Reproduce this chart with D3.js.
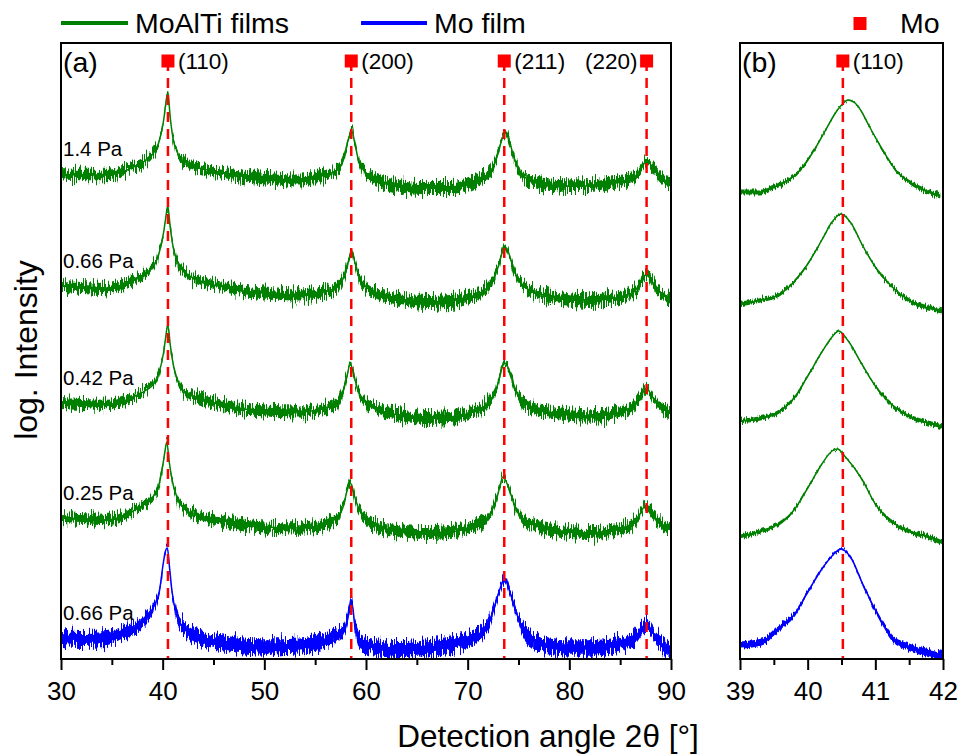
<!DOCTYPE html>
<html>
<head>
<meta charset="utf-8">
<script src="https://cdn.jsdelivr.net/npm/d3@7"></script>
<style>
  body { margin: 0; background: #fff; }
  svg { display: block; font-family: "Liberation Sans", Arial, Helvetica, sans-serif; }
</style>
</head>
<body>
<svg id="chart" width="960" height="754"></svg>
<script>
// XRD scans, [2θ in degrees, log intensity in a.u. (patterns stacked)]
const scan14Pa = [
  [30.0,4.85],[32.0,4.84],[34.5,4.84],[36.0,4.87],[37.1,4.92],[38.4,4.99],[39.1,5.06],[39.6,5.16],
  [40.1,5.39],[40.3,5.55],[40.5,5.67],[40.75,5.41],[41.05,5.19],[41.4,5.08],[41.7,5.01],[42.4,4.96],
  [44.0,4.90],[46.0,4.86],[48.0,4.83],[50.0,4.81],[53.5,4.79],[55.2,4.82],[56.8,4.87],[57.4,4.91],
  [57.8,5.01],[58.25,5.19],[58.6,5.28],[58.9,5.16],[59.25,4.99],[59.75,4.89],[61.0,4.80],[63.3,4.73],
  [66.0,4.71],[68.3,4.71],[70.5,4.77],[71.9,4.84],[72.5,4.92],[73.0,5.06],[73.35,5.19],[73.7,5.26],
  [74.0,5.21],[74.35,5.09],[74.8,4.94],[75.5,4.83],[76.5,4.77],[78.0,4.74],[80.0,4.73],[82.0,4.73],
  [84.6,4.77],[86.3,4.81],[86.8,4.87],[87.2,4.93],[87.6,4.98],[88.25,4.91],[88.9,4.82],[90.0,4.77]
];
const scan066Pa = [
  [30.0,3.73],[32.0,3.72],[34.5,3.71],[36.0,3.74],[37.1,3.79],[38.4,3.86],[39.1,3.93],[39.6,4.04],
  [40.1,4.27],[40.3,4.41],[40.5,4.53],[40.75,4.31],[41.05,4.11],[41.4,3.99],[41.7,3.92],[42.4,3.85],
  [44.0,3.77],[46.0,3.72],[48.0,3.68],[50.0,3.66],[53.5,3.64],[55.2,3.66],[56.8,3.70],[57.4,3.74],
  [57.8,3.82],[58.25,3.97],[58.6,4.06],[58.9,3.97],[59.25,3.84],[59.75,3.75],[61.0,3.66],[63.3,3.60],
  [66.0,3.57],[68.3,3.58],[70.5,3.63],[71.9,3.71],[72.5,3.79],[73.0,3.92],[73.35,4.05],[73.7,4.12],
  [74.0,4.07],[74.35,3.96],[74.8,3.83],[75.5,3.73],[76.5,3.67],[78.0,3.63],[80.0,3.60],[82.0,3.59],
  [84.6,3.61],[86.3,3.67],[86.8,3.73],[87.2,3.80],[87.6,3.85],[88.25,3.76],[88.9,3.67],[90.0,3.61]
];
const scan042Pa = [
  [30.0,2.56],[32.0,2.55],[34.5,2.54],[36.0,2.57],[37.1,2.62],[38.4,2.69],[39.1,2.75],[39.6,2.85],
  [40.1,3.07],[40.3,3.22],[40.5,3.34],[40.75,3.14],[41.05,2.94],[41.4,2.81],[41.7,2.73],[42.4,2.66],
  [44.0,2.59],[46.0,2.54],[48.0,2.50],[50.0,2.48],[53.5,2.47],[55.2,2.49],[56.8,2.54],[57.4,2.59],
  [57.8,2.69],[58.15,2.84],[58.45,2.95],[58.8,2.84],[59.2,2.69],[59.75,2.59],[61.0,2.50],[63.3,2.44],
  [66.0,2.41],[68.3,2.42],[70.5,2.47],[71.9,2.55],[72.5,2.63],[73.0,2.76],[73.35,2.90],[73.6,2.96],
  [74.0,2.91],[74.35,2.80],[74.8,2.67],[75.5,2.57],[76.5,2.51],[78.0,2.47],[80.0,2.44],[82.0,2.43],
  [84.6,2.46],[86.3,2.53],[86.8,2.60],[87.2,2.66],[87.6,2.70],[88.25,2.61],[88.9,2.52],[90.0,2.47]
];
const scan025Pa = [
  [30.0,1.41],[32.0,1.40],[34.5,1.39],[36.0,1.42],[37.1,1.48],[38.4,1.56],[39.1,1.63],[39.6,1.73],
  [40.0,1.93],[40.2,2.06],[40.4,2.17],[40.65,1.97],[40.95,1.78],[41.3,1.65],[41.6,1.57],[42.3,1.49],
  [44.0,1.42],[46.0,1.38],[48.0,1.34],[50.0,1.32],[53.5,1.31],[55.2,1.33],[56.8,1.39],[57.4,1.44],
  [57.8,1.54],[58.1,1.67],[58.4,1.77],[58.75,1.67],[59.15,1.54],[59.7,1.43],[61.0,1.33],[63.3,1.28],
  [66.0,1.26],[68.3,1.27],[70.5,1.33],[71.9,1.41],[72.4,1.49],[72.9,1.62],[73.2,1.74],[73.45,1.82],
  [73.8,1.77],[74.2,1.66],[74.7,1.52],[75.4,1.41],[76.5,1.34],[78.0,1.30],[80.0,1.27],[82.0,1.26],
  [84.6,1.29],[86.3,1.36],[86.8,1.42],[87.1,1.48],[87.45,1.53],[88.1,1.46],[88.9,1.36],[90.0,1.30]
];
const scanMo066Pa = [
  [30.0,0.21],[32.0,0.20],[34.5,0.21],[36.1,0.27],[37.3,0.31],[38.4,0.41],[39.1,0.52],[39.7,0.69],
  [40.05,0.95],[40.25,1.07],[40.45,1.11],[40.7,0.89],[40.9,0.69],[41.4,0.43],[42.0,0.32],[43.7,0.21],
  [46.0,0.16],[48.0,0.13],[50.0,0.12],[53.5,0.13],[55.2,0.16],[56.8,0.22],[57.4,0.26],[57.8,0.29],
  [58.2,0.41],[58.55,0.59],[58.95,0.31],[59.5,0.16],[61.0,0.11],[63.3,0.09],[66.0,0.11],[68.3,0.14],
  [70.5,0.21],[71.6,0.29],[72.2,0.39],[72.75,0.56],[73.2,0.71],[73.65,0.80],[74.05,0.70],[74.5,0.56],
  [75.3,0.32],[76.1,0.21],[78.0,0.13],[80.0,0.11],[82.0,0.11],[84.6,0.14],[86.3,0.20],[86.75,0.25],
  [87.2,0.31],[87.6,0.34],[88.5,0.22],[89.5,0.11],[90.0,0.08]
];

// Detail scans around the Mo (110) reflection, same stacking order
const peak14Pa = [
  [39.0,4.67],[39.3,4.67],[39.6,4.75],[39.85,4.86],[40.05,5.04],[40.25,5.27],[40.4,5.45],[40.5,5.54],
  [40.6,5.59],[40.7,5.56],[40.8,5.47],[40.9,5.34],[41.1,5.10],[41.3,4.89],[41.55,4.75],[41.8,4.67],[41.96,4.63]
];
const peak066Pa = [
  [39.0,3.55],[39.32,3.59],[39.57,3.64],[39.81,3.78],[40.01,3.96],[40.21,4.19],[40.36,4.37],[40.49,4.45],
  [40.65,4.35],[40.8,4.15],[41.0,3.92],[41.25,3.72],[41.49,3.59],[41.78,3.51],[42.0,3.48]
];
const peak042Pa = [
  [39.0,2.38],[39.32,2.41],[39.57,2.47],[39.81,2.62],[40.01,2.84],[40.21,3.07],[40.36,3.22],[40.46,3.28],
  [40.6,3.18],[40.8,2.95],[41.0,2.73],[41.25,2.54],[41.49,2.43],[41.78,2.36],[42.0,2.32]
];
const peak025Pa = [
  [39.0,1.22],[39.32,1.28],[39.57,1.35],[39.81,1.50],[40.01,1.72],[40.21,1.95],[40.36,2.08],[40.44,2.10],
  [40.56,2.02],[40.8,1.80],[41.0,1.55],[41.25,1.37],[41.49,1.28],[41.78,1.22],[42.0,1.16]
];
const peakMo066Pa = [
  [39.0,0.14],[39.32,0.17],[39.57,0.31],[39.81,0.45],[40.01,0.68],[40.21,0.90],[40.36,1.03],[40.49,1.10],
  [40.65,1.00],[40.8,0.77],[41.0,0.49],[41.25,0.21],[41.49,0.12],[41.78,0.06],[42.0,0.03]
];

const pressureLabels = ["1.4 Pa", "0.66 Pa", "0.42 Pa", "0.25 Pa", "0.66 Pa"];
const filmType = ["MoAlTi", "MoAlTi", "MoAlTi", "MoAlTi", "Mo"];
const legendLabels = ["MoAlTi films", "Mo film"];
const referenceLabel = "Mo";

// Mo reference reflections
const moHkl = ["(110)", "(200)", "(211)", "(220)"];
const moAngles = [40.52, 58.55, 73.6, 87.6];

// scatter of the counting noise, log units
const noiseWide = [0.06, 0.06, 0.06, 0.06, 0.08];
const noiseZoom = [0.025, 0.025, 0.025, 0.025, 0.04];

const majorWide = [30, 40, 50, 60, 70, 80, 90];
const minorWide = [35, 45, 55, 65, 75, 85];
const majorZoom = [39, 40, 41, 42];
const minorZoom = [39.5, 40.5, 41.5];

const colors = { MoAlTi: "#008000", Mo: "#0000ff", ref: "#ff0000" };

const svg = d3.select("#chart");
const plotTop = 43, plotBottom = 659;
const y = d3.scaleLinear().domain([0, 6.16]).range([plotBottom, plotTop]);
const xWide = d3.scaleLinear().domain([30, 90]).range([61, 671]);
const xZoom = d3.scaleLinear().domain([39, 42]).range([740, 943]);

// jagged texture for the noise envelope: vertical-only displacement
const defs = svg.append("defs");
function grainFilter(id, amount) {
  const flt = defs.append("filter").attr("id", id)
    .attr("x", "-2%").attr("y", "-10%").attr("width", "104%").attr("height", "120%")
    .attr("color-interpolation-filters", "sRGB");
  flt.append("feTurbulence").attr("type", "fractalNoise")
    .attr("baseFrequency", "0.9 0.05").attr("numOctaves", 2).attr("seed", 7).attr("result", "t");
  flt.append("feColorMatrix").attr("in", "t").attr("type", "matrix")
    .attr("values", "0 0 0 0 0.5  0 1.3 0 0 -0.15  0 0 0 0 0  0 0 0 0 1").attr("result", "m");
  flt.append("feDisplacementMap").attr("in", "SourceGraphic").attr("in2", "m")
    .attr("scale", amount).attr("xChannelSelector", "R").attr("yChannelSelector", "G");
}
grainFilter("grain-wide", 16);
grainFilter("grain-zoom", 6);

function drawPanel(id, x, scans, noise, majors, minors, tag) {
  const [x0, x1] = x.range();
  defs.append("clipPath").attr("id", "clip-" + id)
    .append("rect").attr("x", x0).attr("y", plotTop).attr("width", x1 - x0).attr("height", plotBottom - plotTop);
  const g = svg.append("g").attr("clip-path", `url(#clip-${id})`);

  scans.forEach((scan, i) => {
    const col = colors[filmType[i]];
    const vals = scan.map(d => d[1]);
    const lo = d3.min(vals), hi = d3.max(vals);
    // the scatter shrinks where counts are high (peak tops)
    const s = d => noise[i] * Math.max(0.25, 1 - (d[1] - lo) / (hi - lo));
    const band = d3.area().curve(d3.curveMonotoneX)
      .x(d => x(d[0])).y0(d => y(d[1] - s(d))).y1(d => y(d[1] + s(d)));
    const line = d3.line().curve(d3.curveMonotoneX).x(d => x(d[0])).y(d => y(d[1]));
    g.append("path").attr("d", band(scan)).attr("fill", col).attr("filter", `url(#grain-${id})`);
    g.append("path").attr("d", line(scan)).attr("fill", "none").attr("stroke", col).attr("stroke-width", 1.5);
  });

  // reference lines and markers
  const refs = id === "wide" ? moAngles.map((a, i) => ({ a, hkl: moHkl[i] })) : [{ a: moAngles[0], hkl: moHkl[0] }];
  refs.forEach(r => {
    svg.append("line").attr("x1", x(r.a)).attr("x2", x(r.a)).attr("y1", 61).attr("y2", plotBottom)
      .attr("stroke", colors.ref).attr("stroke-width", 2.5).attr("stroke-dasharray", "10,7");
    svg.append("rect").attr("x", x(r.a) - 6.5).attr("y", 54.5).attr("width", 13).attr("height", 13)
      .attr("fill", colors.ref);
    const last = r.hkl === "(220)";
    svg.append("text").attr("x", last ? x(r.a) - 9 : x(r.a) + 10).attr("y", 69)
      .attr("text-anchor", last ? "end" : "start").attr("font-size", 22.5).text(r.hkl);
  });

  // frame
  svg.append("rect").attr("x", x0).attr("y", plotTop).attr("width", x1 - x0).attr("height", plotBottom - plotTop)
    .attr("fill", "none").attr("stroke", "#000").attr("stroke-width", 2);

  const ax = svg.append("g").attr("transform", `translate(0,${plotBottom})`)
    .call(d3.axisBottom(x).tickValues(majors).tickSize(11).tickFormat(d3.format("d")));
  ax.select(".domain").remove();
  ax.selectAll("line").attr("stroke-width", 2);
  ax.selectAll("text").attr("dy", null).attr("y", 41).attr("font-size", 26)
    .attr("font-family", "Liberation Sans, Arial, sans-serif").attr("fill", "#000");
  const mx = svg.append("g").attr("transform", `translate(0,${plotBottom})`)
    .call(d3.axisBottom(x).tickValues(minors).tickSize(6).tickFormat(""));
  mx.select(".domain").remove();
  mx.selectAll("line").attr("stroke-width", 2);

  svg.append("text").attr("x", x0 + 2).attr("y", 72).attr("font-size", 28.5).text(tag);
}

drawPanel("wide", xWide, [scan14Pa, scan066Pa, scan042Pa, scan025Pa, scanMo066Pa], noiseWide, majorWide, minorWide, "(a)");
drawPanel("zoom", xZoom, [peak14Pa, peak066Pa, peak042Pa, peak025Pa, peakMo066Pa], noiseZoom, majorZoom, minorZoom, "(b)");

// pressure labels just above each pattern's start
[scan14Pa, scan066Pa, scan042Pa, scan025Pa, scanMo066Pa].forEach((scan, i) => {
  svg.append("text").attr("x", 63).attr("y", y(scan[0][1]) - 18)
    .attr("font-size", 20.5).text(pressureLabels[i]);
});

// legend
const lg = svg.append("g");
[[61, 128, colors.MoAlTi, 135], [361, 427, colors.Mo, 434]].forEach((p, i) => {
  lg.append("line").attr("x1", p[0]).attr("x2", p[1]).attr("y1", 23).attr("y2", 23)
    .attr("stroke", p[2]).attr("stroke-width", 4);
  lg.append("text").attr("x", p[3]).attr("y", 33).attr("font-size", 28.5).text(legendLabels[i]);
});
lg.append("rect").attr("x", 853.5).attr("y", 17).attr("width", 13).attr("height", 13).attr("fill", colors.ref);
lg.append("text").attr("x", 900).attr("y", 33).attr("font-size", 28.5).text(referenceLabel);

// axis titles
svg.append("text").attr("x", 548).attr("y", 747).attr("text-anchor", "middle")
  .attr("font-size", 31.5).text("Detection angle 2θ [°]");
svg.append("text").attr("transform", "translate(37,350) rotate(-90)").attr("text-anchor", "middle")
  .attr("font-size", 32).text("log. Intensity");
</script>
</body>
</html>
